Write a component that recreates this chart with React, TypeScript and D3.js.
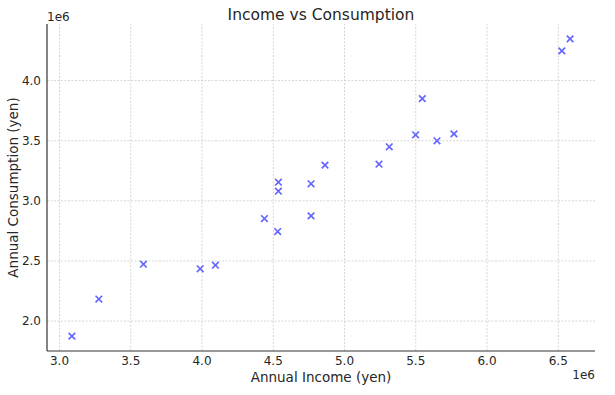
import * as React from "react";
import * as d3 from "d3";

// annual income (yen)
const income: number[] = [
  3087000, 3276000, 3589000, 3987000, 4094000, 4438000, 4531000, 4536000, 4536000, 4765000,
  4765000, 4863000, 5242000, 5314000, 5499000, 5546000, 5649000, 5768000, 6525000, 6583000
];
// annual consumption (yen)
const consumption: number[] = [
  1875000, 2183000, 2473000, 2435000, 2465000, 2853000, 2745000, 3080000, 3155000, 2875000,
  3142000, 3297000, 3305000, 3449000, 3549000, 3850000, 3499000, 3557000, 4247000, 4347000
];
const xTicks: number[] = [3.0, 3.5, 4.0, 4.5, 5.0, 5.5, 6.0, 6.5];
const yTicks: number[] = [2.0, 2.5, 3.0, 3.5, 4.0];

const W = 615;
const H = 395;
const margin = { left: 47, right: 20, top: 24, bottom: 44 };
const font = "DejaVu Sans, sans-serif";

// matplotlib-like 5% padding around the data
function padded(values: number[]): [number, number] {
  const [lo, hi] = d3.extent(values) as [number, number];
  const pad = (hi - lo) * 0.05;
  return [lo - pad, hi + pad];
}

export default function App(): JSX.Element {
  const ref = React.useRef<SVGSVGElement>(null);

  React.useEffect(() => {
    const svg = d3.select(ref.current);
    svg.selectAll("*").remove();

    const x = d3.scaleLinear().domain(padded(income)).range([margin.left, W - margin.right]);
    const y = d3.scaleLinear().domain(padded(consumption)).range([H - margin.bottom, margin.top]);
    const x0 = margin.left, x1 = W - margin.right;
    const y0 = H - margin.bottom, y1 = margin.top;

    // grid
    const grid = svg.append("g").attr("stroke", "#cccccc").attr("stroke-width", 0.8)
      .attr("stroke-dasharray", "2,1.5");
    xTicks.forEach((t) => {
      grid.append("line").attr("x1", x(t * 1e6)).attr("x2", x(t * 1e6)).attr("y1", y0).attr("y2", y1);
    });
    yTicks.forEach((t) => {
      grid.append("line").attr("x1", x0).attr("x2", x1).attr("y1", y(t * 1e6)).attr("y2", y(t * 1e6));
    });

    // spines
    svg.append("line").attr("x1", x0).attr("x2", x0).attr("y1", y0).attr("y2", y1)
      .attr("stroke", "#333").attr("stroke-width", 1.2);
    svg.append("line").attr("x1", x0).attr("x2", x1).attr("y1", y0).attr("y2", y0)
      .attr("stroke", "#333").attr("stroke-width", 1.2);

    // tick labels
    svg.append("g").selectAll("text").data(xTicks).join("text")
      .attr("x", (d) => x(d * 1e6)).attr("y", y0 + 13.5)
      .attr("text-anchor", "middle").attr("font-size", 12).attr("font-family", font).attr("fill", "#262626")
      .text((d) => d.toFixed(1));
    svg.append("g").selectAll("text").data(yTicks).join("text")
      .attr("x", x0 - 6).attr("y", (d) => y(d * 1e6)).attr("dy", "0.35em")
      .attr("text-anchor", "end").attr("font-size", 12).attr("font-family", font).attr("fill", "#262626")
      .text((d) => d.toFixed(1));

    // offset labels
    svg.append("text").attr("x", x0).attr("y", 21).attr("font-size", 12).attr("font-family", font)
      .attr("fill", "#262626").text("1e6");
    svg.append("text").attr("x", x1).attr("y", 379).attr("text-anchor", "end").attr("font-size", 12)
      .attr("font-family", font).attr("fill", "#262626").text("1e6");

    // points as x markers
    const s = 3.3;
    const pts = svg.append("g").attr("stroke", "#3c3cff").attr("stroke-opacity", 0.8).attr("stroke-width", 1.6);
    d3.range(income.length).forEach((i) => {
      const cx = x(income[i]);
      const cy = y(consumption[i]);
      pts.append("path").attr("d", `M${cx - s},${cy - s}L${cx + s},${cy + s}M${cx - s},${cy + s}L${cx + s},${cy - s}`);
    });

    // title and axis labels
    svg.append("text").attr("x", (x0 + x1) / 2).attr("y", 19.5).attr("text-anchor", "middle")
      .attr("font-size", 15.5).attr("font-family", font).attr("fill", "#262626").text("Income vs Consumption");
    svg.append("text").attr("x", (x0 + x1) / 2).attr("y", 381.5).attr("text-anchor", "middle")
      .attr("font-size", 13.5).attr("font-family", font).attr("fill", "#262626").text("Annual Income (yen)");
    svg.append("text").attr("transform", `translate(18,${(y0 + y1) / 2}) rotate(-90)`)
      .attr("text-anchor", "middle").attr("font-size", 13.5).attr("font-family", font).attr("fill", "#262626")
      .text("Annual Consumption (yen)");
  }, []);

  return (
    <svg ref={ref} width={W} height={H}
      style={{ position: "absolute", left: 0, top: 0, background: "#fff" }} />
  );
}
